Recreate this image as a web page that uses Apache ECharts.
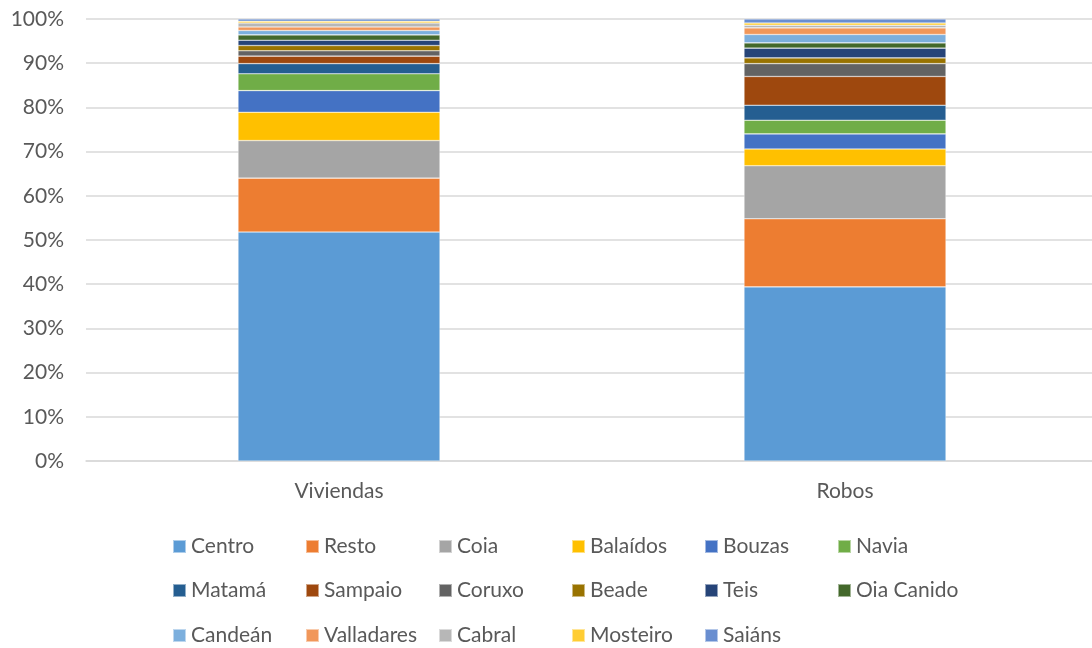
<!DOCTYPE html>
<html><head><meta charset="utf-8">
<script src="https://cdn.jsdelivr.net/npm/echarts@6/dist/echarts.min.js"></script>
<style>html,body{margin:0;padding:0;background:#fff}#c{width:1092px;height:648px}</style>
</head><body><div id="c"></div>
<script>
const categories = ['Viviendas', 'Robos'];
const seriesNames = ['Centro','Resto','Coia','Balaídos','Bouzas','Navia','Matamá','Sampaio','Coruxo','Beade','Teis','Oia Canido','Candeán','Valladares','Cabral','Mosteiro','Saiáns'];
const viviendas = [51.8,12.2,8.5,6.4,4.9,3.8,2.3,1.7,1.2,1.2,1.2,1.2,1.0,0.8,0.9,0.4,0.5];
const robos     = [39.4,15.4,12.0,3.8,3.4,3.1,3.4,6.5,2.9,1.3,2.2,1.2,1.9,1.5,0.6,0.5,0.9];
const colors = ['#5B9BD5','#ED7D31','#A5A5A5','#FFC000','#4472C4','#70AD47','#255E91','#9E480E','#636363','#997300','#264478','#43682B','#7CAFDD','#F1975A','#B7B7B7','#FFCD33','#698ED0'];
const yTicks = [0,10,20,30,40,50,60,70,80,90,100];

const font = 'Lato, "Open Sans", sans-serif';
const series = seriesNames.map((n,i)=>({
  name:n, type:'bar', stack:'s', barWidth:202,
  itemStyle:{color:colors[i], borderColor:'rgba(255,255,255,0.5)', borderWidth:0.6},
  data:[viviendas[i], robos[i]]
}));
const legendTops = [536, 580, 625];
const legends = seriesNames.map((n,i)=>({
  data:[n], orient:'horizontal', left:172 + (i%6)*133, top:legendTops[Math.floor(i/6)],
  padding:0, itemWidth:13, itemHeight:13, icon:'rect',
  textStyle:{fontFamily:font, fontSize:21, color:'#595959'},
  selectedMode:false
}));
const chart = echarts.init(document.getElementById('c'));
chart.setOption({
  animation:false,
  color:colors,
  grid:{left:86, width:1012, top:19, height:442, outerBoundsMode:'none', containLabel:false},
  legend:legends,
  xAxis:{type:'category', data:categories,
    axisLine:{lineStyle:{color:'#d9d9d9', width:1.5}}, axisTick:{show:false},
    axisLabel:{fontFamily:font, fontSize:21, color:'#595959', margin:20}},
  yAxis:{type:'value', min:0, max:100, interval:10,
    axisLabel:{fontFamily:font, fontSize:21, color:'#595959', margin:22,
      formatter:v=>yTicks.includes(v)?v+'%':''},
    splitLine:{lineStyle:{color:'#d9d9d9', width:1.5}},
    axisLine:{show:false}, axisTick:{show:false}},
  series:series
});
</script></body></html>
